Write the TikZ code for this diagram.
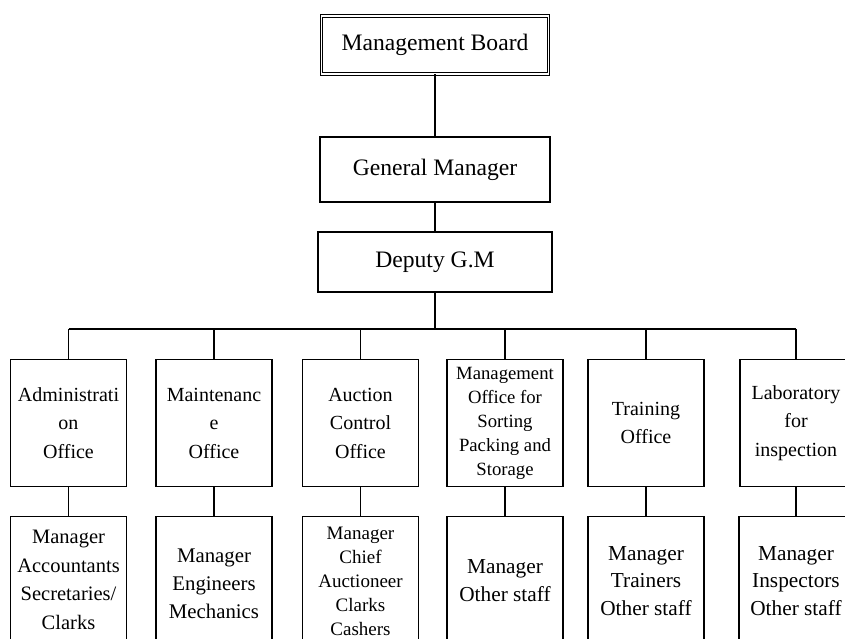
\documentclass[tikz,border=0pt]{standalone}
\usepackage{fontspec}
\setmainfont{Liberation Serif}
\begin{document}
\begin{tikzpicture}[x=1pt,y=-1pt,
  conn/.style={line width=1.1pt},
  headbox/.style={draw, line width=1.1pt, rectangle, inner sep=0pt,
    font=\fontsize{23.6}{28}\selectfont},
  office/.style={draw, line width=1.1pt, rectangle, inner sep=0pt,
    minimum width=116pt, minimum height=127pt, align=center,
    font=\fontsize{20}{28.5}\selectfont},
  staffbox/.style={draw, line width=1.1pt, rectangle, inner sep=0pt,
    minimum width=116pt, minimum height=140pt},
  staff/.style={inner sep=0pt, align=center}]
\useasboundingbox (0,0) rectangle (845,639);
\clip (0,0) rectangle (845,639);

% top of the hierarchy
\node[headbox, double, double distance=1.6pt, line width=0.8pt,
  minimum width=227pt, minimum height=58pt] (mb) at (435,45) {Management Board};
\node[headbox, minimum width=230pt, minimum height=65pt] (gm) at (435,169.5) {General Manager};
\node[headbox, minimum width=234pt, minimum height=60pt] (dgm) at (435,262) {Deputy G.M};
\coordinate (bus) at (435,329);

% offices
\node[office] (a1) at (68.5,423) {Administrati\\on\\Office};
\node[office] (a2) at (214,423) {Maintenanc\\e\\Office};
\node[office] (a3) at (360.5,423) {Auction\\Control\\Office};
\node[office, font=\fontsize{18.7}{24}\selectfont] (a4) at (505,423)
  {Management\\Office for\\Sorting\\Packing and\\Storage};
\node[office] (a5) at (646,423) {Training\\Office};
\node[office, minimum width=112pt] (a6) at (796,423) {Laboratory\\for\\inspection};

% staff boxes
\node[staffbox] (b1) at (68.5,586.5) {};
\node[staffbox] (b2) at (214,586.5) {};
\node[staffbox] (b3) at (360.5,586.5) {};
\node[staffbox] (b4) at (505,586.5) {};
\node[staffbox] (b5) at (646,586.5) {};
\node[staffbox, minimum width=114pt] (b6) at (796,586.5) {};

\node[staff, font=\fontsize{20.5}{28.7}\selectfont] (t1) at (68.5,580)
  {Manager\\Accountants\\Secretaries/\\Clarks};
\node[staff, font=\fontsize{20.8}{28}\selectfont] (t2) at (214,584)
  {Manager\\Engineers\\Mechanics};
\node[staff, font=\fontsize{19}{24}\selectfont] (t3) at (360.5,581)
  {Manager\\Chief\\Auctioneer\\Clarks\\Cashers};
\node[staff, font=\fontsize{21.3}{28}\selectfont] (t4) at (505,581)
  {Manager\\Other staff};
\node[staff, font=\fontsize{21.3}{27.5}\selectfont] (t5) at (646,581)
  {Manager\\Trainers\\Other staff};
\node[staff, font=\fontsize{21.3}{27.5}\selectfont] (t6) at (796,581)
  {Manager\\Inspectors\\Other staff};

% connectors
\draw[conn] (mb) -- (gm);
\draw[conn] (gm) -- (dgm);
\draw[conn] (dgm.south) -- (bus);
\draw[conn] (a1.north |- bus) -- (a6.north |- bus);
\foreach \i in {1,...,6}{
  \draw[conn] (a\i.north |- bus) -- (a\i.north);
  \draw[conn] (a\i.south) -- (b\i.north);
}
\end{tikzpicture}
\end{document}
